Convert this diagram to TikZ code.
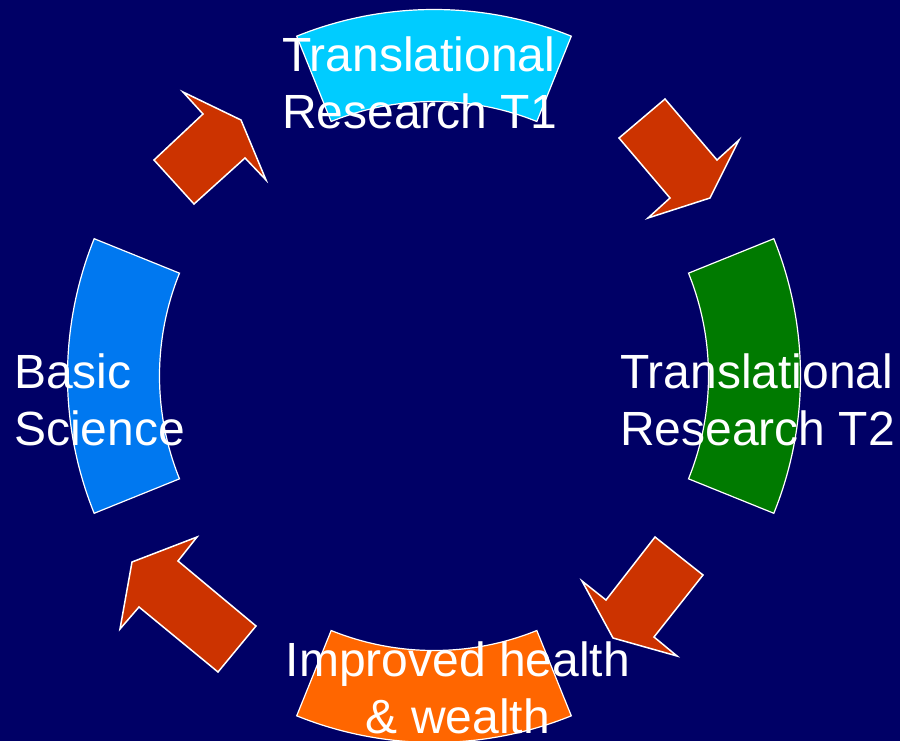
\documentclass[tikz,border=0pt]{standalone}
\usepackage{fontspec}
\setmainfont{Liberation Sans}
\definecolor{bg}{HTML}{000066}
\definecolor{cyanT}{HTML}{00CCFF}
\definecolor{greenT}{HTML}{007A00}
\definecolor{orangeT}{HTML}{FF6600}
\definecolor{blueT}{HTML}{0078F0}
\definecolor{arrowred}{HTML}{CC3300}
\begin{document}
\begin{tikzpicture}[x=1pt,y=-1pt,
  sector/.style={draw=white, line width=1.2pt, line join=miter},
  bigarrow/.style={fill=arrowred, draw=white, line width=1.5pt, line join=miter},
  lbl/.style={text=white, font=\fontsize{48}{56.5}\selectfont, inner sep=0pt}]
\path[fill=bg] (0,0) rectangle (900,741);
\useasboundingbox (0,0) rectangle (900,741);
% sectors of an annulus centred at (434,376)
\begin{scope}[shift={(434,376)}]
\path[sector, fill=cyanT] (248:366.5) arc[start angle=248, end angle=292, radius=366.5]
  -- (292:274.5) arc[start angle=292, end angle=248, radius=274.5] -- cycle;
\path[sector, fill=greenT] (-22:366.5) arc[start angle=-22, end angle=22, radius=366.5]
  -- (22:274.5) arc[start angle=22, end angle=-22, radius=274.5] -- cycle;
\path[sector, fill=orangeT] (68:366.5) arc[start angle=68, end angle=112, radius=366.5]
  -- (112:274.5) arc[start angle=112, end angle=68, radius=274.5] -- cycle;
\path[sector, fill=blueT] (158:366.5) arc[start angle=158, end angle=202, radius=366.5]
  -- (202:274.5) arc[start angle=202, end angle=158, radius=274.5] -- cycle;
\end{scope}
% block arrows
\path[bigarrow] (154,160) -- (203,114) -- (183,92) -- (241,120) -- (266,180) -- (245,158) -- (194,204) -- cycle;
\path[bigarrow] (619,138) -- (665,99) -- (717,160) -- (739,140) -- (710,198) -- (648,218) -- (670,198) -- cycle;
\path[bigarrow] (655,537) -- (703,575) -- (654,637) -- (677,656) -- (613,638) -- (582,581) -- (606,600) -- cycle;
\path[bigarrow] (256,626) -- (218,672) -- (139,607) -- (120,629) -- (132,562) -- (197,537) -- (178,561) -- cycle;
% labels
\node[lbl, anchor=north west, align=left] (t1) at (282,37) {Translational\\Research T1};
\node[lbl, anchor=north west, align=left] (t2) at (620,354) {Translational\\Research T2};
\node[lbl, anchor=north west, align=left] (bs) at (14,354) {Basic\\Science};
\node[lbl, anchor=north, align=center] (ih) at (458,642) {Improved health\\\& wealth};
\end{tikzpicture}
\end{document}
